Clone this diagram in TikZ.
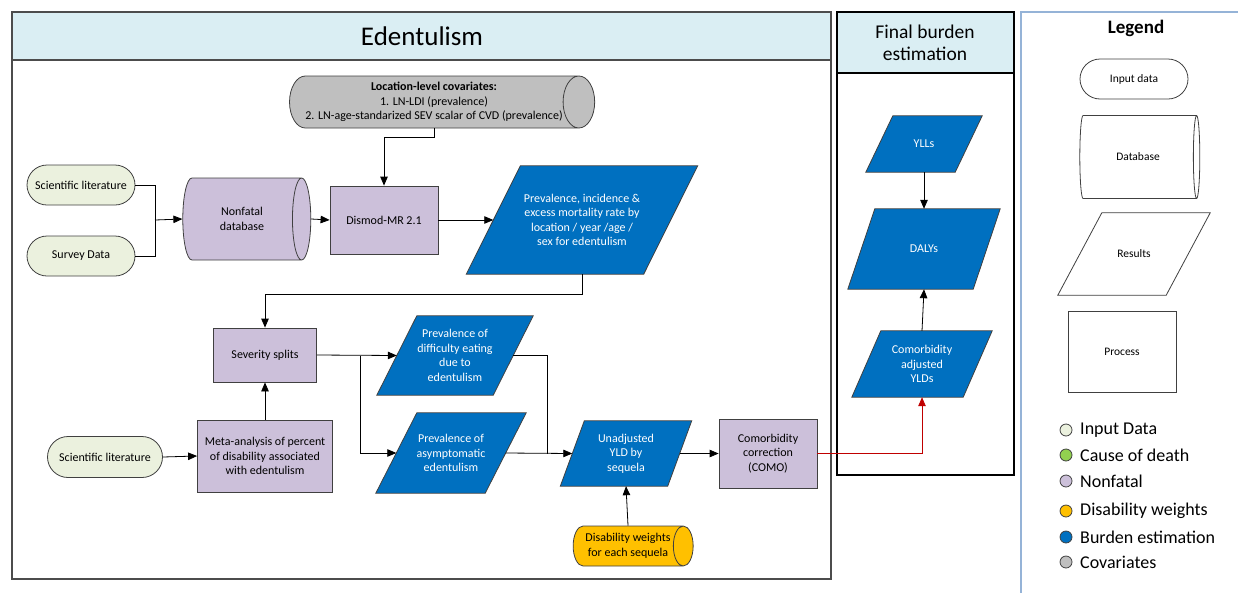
\documentclass[tikz,border=0pt]{standalone}
\usepackage{fontspec}
\setmainfont{Carlito}
\usetikzlibrary{shapes.geometric,shapes.misc,arrows.meta,calc,backgrounds}
\definecolor{hdr}{HTML}{DAEEF3}
\definecolor{inp}{HTML}{EBF1DE}
\definecolor{nfc}{HTML}{CCC0DA}
\definecolor{blu}{HTML}{0070C0}
\definecolor{cov}{HTML}{BFBFBF}
\definecolor{dwc}{HTML}{FFC000}
\definecolor{cod}{HTML}{92D050}
\definecolor{edge}{HTML}{404040}
\definecolor{legb}{HTML}{95B3D7}
\definecolor{redl}{HTML}{C00000}
\newcommand\paraback[3]{%
  \path[#3] ($(#1.south west)+(-#2,0)$) -- ($(#1.south east)+(-#2,0)$) --
    ($(#1.north east)+(#2,0)$) -- ($(#1.north west)+(#2,0)$) -- cycle;}
\begin{document}
\begin{tikzpicture}[x=1pt,y=-1pt,
  base/.style={font=\fontsize{12}{14.5}\selectfont, align=center, inner sep=0pt},
  inputbox/.style={base, rounded rectangle, draw=edge, line width=0.8pt, fill=inp},
  procbox/.style={base, rectangle, draw=edge, line width=0.8pt, fill=nfc},
  dbase/.style={base, cylinder, shape aspect=0.8, draw=edge, line width=0.8pt},
  resnode/.style={base, rectangle, text=white},
  resfill/.style={fill=blu, draw=edge, line width=0.8pt},
  legshape/.style={fill=white, draw=edge, line width=0.8pt},
  frame/.style={draw=#1, line width=1.2pt},
  conn/.style={line width=0.8pt, draw=black},
  arr/.style={conn, -{Triangle[length=9pt,width=7.5pt]}},
  legdot/.style={circle, draw=edge, line width=0.8pt, minimum size=12pt, inner sep=0pt},
  legtext/.style={anchor=west, inner sep=0pt, font=\fontsize{18}{21}\selectfont}
]
\useasboundingbox (0,0) rectangle (1238,592);
% ---------- frames ----------
\fill[hdr] (12,12) rectangle (831,60);
\draw[frame=black!70] (12,12) rectangle (831,579);
\draw[frame=black!70] (12,60) -- (831,60);
\node[font=\fontsize{27}{31}\selectfont] (ttl) at (422,36) {Edentulism};
\fill[hdr] (837,12) rectangle (1014,73);
\draw[frame=black] (837,12) rectangle (1014,475);
\draw[frame=black] (837,73) -- (1014,73);
\node[align=center, font=\fontsize{19.5}{22}\selectfont] (ftl) at (925,43) {Final burden\\estimation};
\draw[frame=legb] (1021,600) -- (1021,12) -- (1240,12);
% ---------- nodes ----------
\node[dbase, fill=cov, minimum height=297pt, minimum width=52pt] (cov) at (434,102)
  {\textbf{Location-level covariates:}\\1. LN-LDI (prevalence)\\2. LN-age-standarized SEV scalar of CVD (prevalence)};
\node[inputbox, minimum width=108pt, minimum height=40pt] (sl1) at (81,185) {Scientific literature};
\node[inputbox, minimum width=108pt, minimum height=40pt] (sd) at (81,256) {Survey Data};
\node[dbase, fill=nfc, minimum height=128pt, minimum width=82pt] (nf) at (242,219) {Nonfatal\\database};
\node[procbox, minimum width=108pt, minimum height=68pt] (dm) at (384,220) {Dismod-MR 2.1};
\node[resnode, minimum width=177pt, minimum height=108pt] (prev) at (582,220)
  {Prevalence, incidence \&\\excess mortality rate by\\location / year /age /\\sex for edentulism};
\node[procbox, minimum width=103pt, minimum height=54pt] (sev) at (265,355) {Severity splits};
\node[procbox, minimum width=135pt, minimum height=72pt] (meta) at (265,456)
  {Meta-analysis of percent\\of disability associated\\with edentulism};
\node[inputbox, minimum width=115pt, minimum height=41pt] (sl2) at (105,457) {Scientific literature};
\node[resnode, minimum width=116pt, minimum height=79pt] (diff) at (455,355.5)
  {Prevalence of\\difficulty eating\\due to\\edentulism};
\node[resnode, minimum width=109pt, minimum height=80pt] (asym) at (451,453)
  {Prevalence of\\asymptomatic\\edentulism};
\node[resnode, minimum width=107pt, minimum height=65pt] (yld) at (626,453.5)
  {Unadjusted\\YLD by\\sequela};
\node[procbox, minimum width=98pt, minimum height=69pt] (como) at (768,453.5)
  {Comorbidity\\correction\\(COMO)};
\node[dbase, fill=dwc, minimum height=120pt, minimum width=40pt] (dw) at (628,546)
  {Disability weights\\for each sequela};
\node[resnode, minimum width=89pt, minimum height=56pt] (ylls) at (924,144) {YLLs};
\node[resnode, minimum width=125pt, minimum height=80pt] (dalys) at (924,249) {DALYs};
\node[resnode, minimum width=111pt, minimum height=66pt] (cadj) at (922,364)
  {Comorbidity\\adjusted\\YLDs};
% ---------- legend ----------
\node[font=\fontsize{19}{22}\selectfont\bfseries] (legt) at (1136,28) {Legend};
\node[base, rounded rectangle, legshape, minimum width=108pt, minimum height=40pt,
  font=\fontsize{11.5}{13}\selectfont] (lin) at (1134,79) {Input data};
\node[dbase, fill=white, minimum height=120pt, minimum width=83pt,
  font=\fontsize{11.5}{13}\selectfont] (ldb) at (1138,157) {Database};
\node[resnode, text=black, minimum width=108pt, minimum height=82pt,
  font=\fontsize{11.5}{13}\selectfont] (lres) at (1134,254) {Results};
\node[base, rectangle, legshape, minimum width=108pt, minimum height=81pt,
  font=\fontsize{11.5}{13}\selectfont] (lproc) at (1122,352) {Process};
\node[legdot, fill=inp] (d1) at (1066,430) {};
\node[legdot, fill=cod] (d2) at (1066,455) {};
\node[legdot, fill=nfc] (d3) at (1066,481) {};
\node[legdot, fill=dwc] (d4) at (1066,511) {};
\node[legdot, fill=blu] (d5) at (1066,537) {};
\node[legdot, fill=cov] (d6) at (1066,562) {};
\node[legtext] (t1) at (1080,430) {Input Data};
\node[legtext] (t2) at (1080,455) {Cause of death};
\node[legtext] (t3) at (1080,481) {Nonfatal};
\node[legtext] (t4) at (1080,511) {Disability weights};
\node[legtext] (t5) at (1080,537) {Burden estimation};
\node[legtext] (t6) at (1080,562) {Covariates};
% ---------- parallelogram bodies ----------
\begin{scope}[on background layer]
  \paraback{prev}{27}{resfill}
  \paraback{diff}{20}{resfill}
  \paraback{asym}{20.5}{resfill}
  \paraback{yld}{12}{resfill}
  \paraback{ylls}{13.5}{resfill}
  \paraback{dalys}{13.5}{resfill}
  \paraback{cadj}{14.5}{resfill}
  \paraback{lres}{22}{legshape}
\end{scope}
% ---------- connectors ----------
\coordinate (j1) at (155,220);
\coordinate (b1) at (360,355.5);
\coordinate (j2) at (547,453.5);
\draw[conn] (sl1.east) -| (j1);
\draw[conn] (sd.east) -| (j1);
\draw[arr] (j1) -- (nf.west);
\draw[arr] (nf.east) -- (dm.west);
\draw[arr] (cov.south) -- ++(0,9) -| (dm.north);
\draw[arr] (dm.east) -- (prev.west);
\draw[arr] (prev.south) -- ++(0,20) -| (sev.north);
\draw[arr] (meta.north) -- (sev.south);
\draw[arr] (sl2.east) -- (meta.west);
\draw[arr] (sev.east) -- (diff.west);
\draw[arr] (b1) |- (asym.west);
\draw[conn] (diff.east) -| (j2);
\draw[arr] (asym.east) -- (yld.west);
\draw[arr] (dw.north) -- (yld.south);
\draw[arr] (yld.east) -- (como.west);
\draw[arr, draw=redl, -{Triangle[length=9pt,width=7.5pt,fill=redl]}] (como.east) -| (cadj.south);
\draw[arr] (ylls.south) -- (dalys.north);
\draw[arr] (cadj.north) -- (dalys.south);
\end{tikzpicture}
\end{document}
